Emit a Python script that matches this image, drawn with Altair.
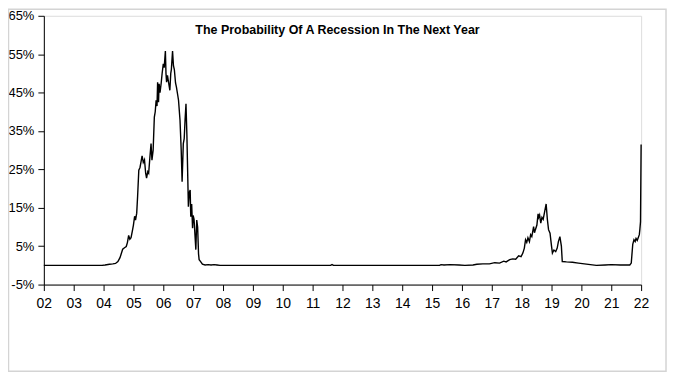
import altair as alt
import pandas as pd

years = [
    2002.00, 2003.95, 2004.05, 2004.2, 2004.31, 2004.4, 2004.48, 2004.55, 2004.6, 2004.64,
    2004.7, 2004.76, 2004.8, 2004.84, 2004.88, 2004.92, 2004.96, 2005.0, 2005.04, 2005.07,
    2005.11, 2005.14, 2005.18, 2005.22, 2005.26, 2005.29, 2005.33, 2005.37, 2005.41, 2005.44,
    2005.48, 2005.51, 2005.55, 2005.59, 2005.62, 2005.66, 2005.70, 2005.73, 2005.76, 2005.79,
    2005.81, 2005.84, 2005.86, 2005.89, 2005.93, 2005.96, 2006.0, 2006.03, 2006.07, 2006.09,
    2006.11, 2006.14, 2006.18, 2006.22, 2006.25, 2006.27, 2006.31, 2006.34, 2006.37, 2006.41,
    2006.44, 2006.48, 2006.51, 2006.56, 2006.6, 2006.63, 2006.67, 2006.7, 2006.73, 2006.76,
    2006.79, 2006.81, 2006.84, 2006.87, 2006.9, 2006.92, 2006.95, 2006.98, 2007.0, 2007.03,
    2007.06, 2007.09, 2007.12, 2007.15, 2007.18, 2007.2, 2007.25, 2007.31, 2007.4, 2007.5,
    2007.6, 2007.7, 2007.8, 2007.9, 2011.6, 2011.65, 2011.7, 2015.25, 2015.3, 2015.4,
    2015.6, 2015.9, 2016.1, 2016.37, 2016.5, 2016.7, 2016.92, 2017.1, 2017.26, 2017.4,
    2017.48, 2017.6, 2017.7, 2017.8, 2017.9, 2017.98, 2018.04, 2018.09, 2018.13, 2018.17,
    2018.21, 2018.26, 2018.3, 2018.34, 2018.4, 2018.43, 2018.46, 2018.51, 2018.55, 2018.57,
    2018.6, 2018.64, 2018.68, 2018.72, 2018.77, 2018.82, 2018.86, 2018.9, 2018.95, 2019.0,
    2019.03, 2019.08, 2019.14, 2019.19, 2019.23, 2019.28, 2019.33, 2019.36, 2019.5, 2019.7,
    2019.9, 2020.1, 2020.3, 2020.5, 2020.8, 2021.0, 2021.3, 2021.5, 2021.62, 2021.67,
    2021.72, 2021.76, 2021.8, 2021.83, 2021.87, 2021.9, 2021.94, 2021.96, 2021.98, 2022.0,
]
probability = [
    0.0, 0.0, 0.1, 0.3, 0.4, 0.5, 1.0, 2.0, 3.2, 4.2,
    4.6, 4.9, 6.0, 7.8, 6.8, 7.2, 8.8, 10.5, 12.8, 11.8,
    13.6, 18.0, 24.8, 25.5, 27.2, 28.5, 26.8, 27.5, 24.0, 22.7,
    24.4, 24.0, 28.0, 31.7, 27.4, 30.0, 38.6, 40.0, 43.0, 41.5,
    47.7, 42.5, 47.3, 45.0, 47.5, 49.9, 52.5, 51.5, 55.8, 50.0,
    47.7, 49.5, 47.5, 45.6, 50.0, 51.0, 55.8, 52.0, 51.0, 47.5,
    46.4, 44.5, 43.0, 37.8, 30.0, 21.8, 31.7, 33.0, 38.0, 42.1,
    34.0, 26.5, 15.3, 19.0, 19.6, 12.7, 16.0, 9.7, 13.0, 12.0,
    8.0, 4.1, 11.8, 10.0, 3.0, 1.5, 1.0, 0.3, 0.1, 0.2,
    0.1, 0.2, 0.1, 0.0, 0.0, 0.2, 0.0, 0.0, 0.2, 0.1,
    0.2, 0.1, 0.0, 0.1, 0.3, 0.4, 0.4, 0.7, 0.6, 1.1,
    0.9, 1.5, 1.7, 1.6, 2.5, 2.3, 3.2, 4.5, 6.7, 6.0,
    7.2, 6.2, 8.0, 7.5, 10.1, 8.5, 9.3, 10.5, 13.4, 12.5,
    13.1, 11.0, 12.5, 12.0, 14.0, 16.0, 12.0, 9.3, 8.4, 5.0,
    3.2, 4.0, 3.6, 4.5, 6.2, 7.5, 5.0, 1.0, 0.9, 0.8,
    0.6, 0.4, 0.2, 0.0, 0.1, 0.2, 0.1, 0.1, 0.1, 0.6,
    5.5, 6.7, 6.2, 7.0, 6.5, 7.1, 8.0, 9.5, 11.4, 31.5,
]
x_ticks = list(range(2002, 2023))
y_ticks = [-5, 5, 15, 25, 35, 45, 55, 65]
title_text = "The Probability Of A Recession In The Next Year"

df = pd.DataFrame({"year": years, "prob": probability})

font = "Liberation Sans, Arial, sans-serif"

line = alt.Chart(df).mark_line(color="black", strokeWidth=1.4).encode(
    x=alt.X(
        "year:Q",
        scale=alt.Scale(domain=[2002, 2022], nice=False, zero=False),
        axis=alt.Axis(
            values=x_ticks,
            labelExpr="substring(format(datum.value, 'd'), 2)",
            title=None,
            grid=False,
            domainColor="black",
            tickColor="black",
            tickSize=6,
            labelColor="black",
            labelFont=font,
            labelFontSize=14,
            labelPadding=6,
            labelFlush=False,
        ),
    ),
    y=alt.Y(
        "prob:Q",
        scale=alt.Scale(domain=[-5, 65], nice=False, zero=False),
        axis=alt.Axis(
            values=y_ticks,
            labelExpr="datum.value + '%'",
            title=None,
            grid=False,
            domainColor="black",
            tickColor="black",
            tickSize=6,
            labelColor="black",
            labelFont=font,
            labelFontSize=13,
            labelPadding=4,
        ),
    ),
)

title = alt.Chart(alt.Data(values=[{"t": title_text}])).mark_text(
    font=font, fontSize=12.5, fontWeight="bold", color="black",
    align="center", baseline="middle",
).encode(text="t:N", x=alt.value(295), y=alt.value(14))

border = alt.Chart(alt.Data(values=[{}])).mark_rect(
    fill=None, stroke="#d4d4d4", strokeWidth=1.5
).encode(x=alt.value(-35.5), x2=alt.value(625), y=alt.value(-6.5), y2=alt.value(357))

chart = alt.layer(border, line, title).properties(
    width=600,
    height=270,
    autosize=alt.AutoSizeParams(type="none"),
    padding={"left": 36, "top": 7, "right": 26, "bottom": 88},
).configure_view(stroke=None).configure(background="white")

chart.save("out.html", embed_options={"renderer": "svg", "actions": False})
